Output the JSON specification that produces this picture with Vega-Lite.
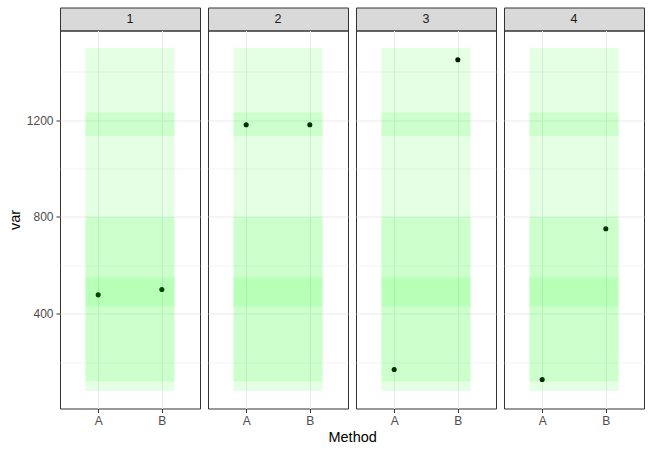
{
  "$schema": "https://vega.github.io/schema/vega-lite/v6.json",
  "background": "white",
  "padding": {"left": 6, "top": 6.5, "right": 5, "bottom": 5},
  "title": {"text": "Method", "orient": "bottom", "anchor": "middle", "frame": "bounds", "dx": 27, "font": "Liberation Sans", "fontSize": 14.5, "fontWeight": "normal", "color": "#000000", "offset": 4},
  "datasets": {
    "pts": [
      {"panel": 1, "Method": "A", "var": 478},
      {"panel": 1, "Method": "B", "var": 500},
      {"panel": 2, "Method": "A", "var": 1181},
      {"panel": 2, "Method": "B", "var": 1181},
      {"panel": 3, "Method": "A", "var": 169},
      {"panel": 3, "Method": "B", "var": 1450},
      {"panel": 4, "Method": "A", "var": 128},
      {"panel": 4, "Method": "B", "var": 751}
    ],
    "rects": [
      {"xmin": 0.8, "xmax": 2.2, "ymin": 80, "ymax": 1500},
      {"xmin": 0.8, "xmax": 2.2, "ymin": 120, "ymax": 800},
      {"xmin": 0.8, "xmax": 2.2, "ymin": 430, "ymax": 550},
      {"xmin": 0.8, "xmax": 2.2, "ymin": 1135, "ymax": 1232}
    ]
  },
  "spacing": 6,
  "hconcat": [
    {
      "spacing": 0, "bounds": "flush",
      "vconcat": [
        {"width": 140, "height": 23, "data": {"values": [{"lab": "1"}]}, "mark": {"type": "text", "font": "Liberation Sans", "fontSize": 12.5, "color": "#1A1A1A", "baseline": "middle"}, "encoding": {"text": {"field": "lab"}}, "view": {"fill": "#D9D9D9", "stroke": "#333333"}},
        {
          "width": 140, "height": 378,
          "layer": [
            {"data": {"name": "pts"}, "transform": [{"filter": "datum.panel === 1"}, {"calculate": "datum.Method === 'A' ? 1 : 2", "as": "x"}],
             "mark": {"type": "circle", "size": 26, "color": "#000000", "opacity": 1},
             "encoding": {
               "x": {"field": "x", "type": "quantitative", "scale": {"domain": [0.4, 2.6], "nice": false, "zero": false}, "axis": {"values": [1, 2], "labelExpr": "datum.value === 1 ? 'A' : 'B'", "title": null}},
               "y": {"field": "var", "type": "quantitative", "scale": {"domain": [8, 1571], "nice": false, "zero": false}, "axis": {"values": [200, 400, 600, 800, 1000, 1200, 1400], "format": "d", "labelExpr": "datum.value % 400 === 0 ? datum.label : ''", "tickOpacity": {"condition": {"test": "datum.value % 400 === 0", "value": 1}, "value": 0}, "gridWidth": {"condition": {"test": "datum.value % 400 === 0", "value": 1}, "value": 0.6}, "title": "var"}}
             }},
            {"data": {"name": "rects"}, "mark": {"type": "rect", "color": "#00FF00", "fillOpacity": 0.1, "strokeWidth": 0},
             "encoding": {"x": {"field": "xmin", "type": "quantitative", "scale": {"domain": [0.4, 2.6], "nice": false, "zero": false}}, "x2": {"field": "xmax"}, "y": {"field": "ymin", "type": "quantitative", "scale": {"domain": [8, 1571], "nice": false, "zero": false}}, "y2": {"field": "ymax"}}}
          ]
        }
      ]
    },
    {
      "spacing": 0, "bounds": "flush",
      "vconcat": [
        {"width": 140, "height": 23, "data": {"values": [{"lab": "2"}]}, "mark": {"type": "text", "font": "Liberation Sans", "fontSize": 12.5, "color": "#1A1A1A", "baseline": "middle"}, "encoding": {"text": {"field": "lab"}}, "view": {"fill": "#D9D9D9", "stroke": "#333333"}},
        {
          "width": 140, "height": 378,
          "layer": [
            {"data": {"name": "pts"}, "transform": [{"filter": "datum.panel === 2"}, {"calculate": "datum.Method === 'A' ? 1 : 2", "as": "x"}],
             "mark": {"type": "circle", "size": 26, "color": "#000000", "opacity": 1},
             "encoding": {
               "x": {"field": "x", "type": "quantitative", "scale": {"domain": [0.4, 2.6], "nice": false, "zero": false}, "axis": {"values": [1, 2], "labelExpr": "datum.value === 1 ? 'A' : 'B'", "title": null}},
               "y": {"field": "var", "type": "quantitative", "scale": {"domain": [8, 1571], "nice": false, "zero": false}, "axis": {"values": [200, 400, 600, 800, 1000, 1200, 1400], "labels": false, "ticks": false, "gridWidth": {"condition": {"test": "datum.value % 400 === 0", "value": 1}, "value": 0.6}, "title": null}}
             }},
            {"data": {"name": "rects"}, "mark": {"type": "rect", "color": "#00FF00", "fillOpacity": 0.1, "strokeWidth": 0},
             "encoding": {"x": {"field": "xmin", "type": "quantitative", "scale": {"domain": [0.4, 2.6], "nice": false, "zero": false}}, "x2": {"field": "xmax"}, "y": {"field": "ymin", "type": "quantitative", "scale": {"domain": [8, 1571], "nice": false, "zero": false}}, "y2": {"field": "ymax"}}}
          ]
        }
      ]
    },
    {
      "spacing": 0, "bounds": "flush",
      "vconcat": [
        {"width": 140, "height": 23, "data": {"values": [{"lab": "3"}]}, "mark": {"type": "text", "font": "Liberation Sans", "fontSize": 12.5, "color": "#1A1A1A", "baseline": "middle"}, "encoding": {"text": {"field": "lab"}}, "view": {"fill": "#D9D9D9", "stroke": "#333333"}},
        {
          "width": 140, "height": 378,
          "layer": [
            {"data": {"name": "pts"}, "transform": [{"filter": "datum.panel === 3"}, {"calculate": "datum.Method === 'A' ? 1 : 2", "as": "x"}],
             "mark": {"type": "circle", "size": 26, "color": "#000000", "opacity": 1},
             "encoding": {
               "x": {"field": "x", "type": "quantitative", "scale": {"domain": [0.4, 2.6], "nice": false, "zero": false}, "axis": {"values": [1, 2], "labelExpr": "datum.value === 1 ? 'A' : 'B'", "title": null}},
               "y": {"field": "var", "type": "quantitative", "scale": {"domain": [8, 1571], "nice": false, "zero": false}, "axis": {"values": [200, 400, 600, 800, 1000, 1200, 1400], "labels": false, "ticks": false, "gridWidth": {"condition": {"test": "datum.value % 400 === 0", "value": 1}, "value": 0.6}, "title": null}}
             }},
            {"data": {"name": "rects"}, "mark": {"type": "rect", "color": "#00FF00", "fillOpacity": 0.1, "strokeWidth": 0},
             "encoding": {"x": {"field": "xmin", "type": "quantitative", "scale": {"domain": [0.4, 2.6], "nice": false, "zero": false}}, "x2": {"field": "xmax"}, "y": {"field": "ymin", "type": "quantitative", "scale": {"domain": [8, 1571], "nice": false, "zero": false}}, "y2": {"field": "ymax"}}}
          ]
        }
      ]
    },
    {
      "spacing": 0, "bounds": "flush",
      "vconcat": [
        {"width": 140, "height": 23, "data": {"values": [{"lab": "4"}]}, "mark": {"type": "text", "font": "Liberation Sans", "fontSize": 12.5, "color": "#1A1A1A", "baseline": "middle"}, "encoding": {"text": {"field": "lab"}}, "view": {"fill": "#D9D9D9", "stroke": "#333333"}},
        {
          "width": 140, "height": 378,
          "layer": [
            {"data": {"name": "pts"}, "transform": [{"filter": "datum.panel === 4"}, {"calculate": "datum.Method === 'A' ? 1 : 2", "as": "x"}],
             "mark": {"type": "circle", "size": 26, "color": "#000000", "opacity": 1},
             "encoding": {
               "x": {"field": "x", "type": "quantitative", "scale": {"domain": [0.4, 2.6], "nice": false, "zero": false}, "axis": {"values": [1, 2], "labelExpr": "datum.value === 1 ? 'A' : 'B'", "title": null}},
               "y": {"field": "var", "type": "quantitative", "scale": {"domain": [8, 1571], "nice": false, "zero": false}, "axis": {"values": [200, 400, 600, 800, 1000, 1200, 1400], "labels": false, "ticks": false, "gridWidth": {"condition": {"test": "datum.value % 400 === 0", "value": 1}, "value": 0.6}, "title": null}}
             }},
            {"data": {"name": "rects"}, "mark": {"type": "rect", "color": "#00FF00", "fillOpacity": 0.1, "strokeWidth": 0},
             "encoding": {"x": {"field": "xmin", "type": "quantitative", "scale": {"domain": [0.4, 2.6], "nice": false, "zero": false}}, "x2": {"field": "xmax"}, "y": {"field": "ymin", "type": "quantitative", "scale": {"domain": [8, 1571], "nice": false, "zero": false}}, "y2": {"field": "ymax"}}}
          ]
        }
      ]
    }
  ],
  "config": {
    "font": "Liberation Sans",
    "view": {"stroke": "#333333", "strokeWidth": 1},
    "axis": {
      "domain": false,
      "grid": true,
      "gridColor": "#EBEBEB",
      "tickColor": "#333333",
      "tickSize": 4,
      "tickWidth": 1,
      "labelColor": "#4D4D4D",
      "labelFont": "Liberation Sans",
      "labelFontSize": 12,
      "labelPadding": 3,
      "titleFont": "Liberation Sans",
      "titleFontSize": 14.5,
      "titleFontWeight": "normal",
      "titleColor": "#000000",
      "titlePadding": 4
    }
  }
}
